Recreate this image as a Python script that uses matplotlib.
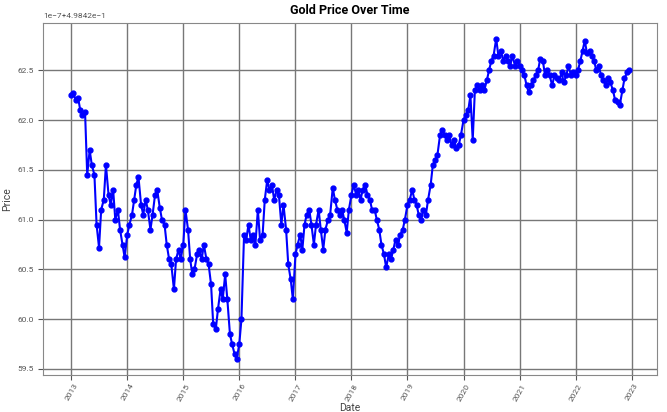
import matplotlib
matplotlib.use('Agg')
import matplotlib.pyplot as plt
import matplotlib.dates as mdates
import pandas as pd

# semi-monthly readings (1st and 15th), Jan 2013 - Dec 2022
dates = pd.date_range("2013-01-01", "2022-12-15", freq="SMS")

# prices in units of 1e-7 above the 0.49842 base
base = 0.49842
scale = 1e-7
price = [
    # 2013
    62.25, 62.27, 62.20, 62.22, 62.10, 62.05, 62.08, 61.45, 61.70, 61.55, 61.45, 60.95,
    60.72, 61.10, 61.20, 61.55, 61.25, 61.15, 61.30, 61.00, 61.10, 60.90, 60.75, 60.62,
    # 2014
    60.85, 60.95, 61.05, 61.20, 61.35, 61.43, 61.15, 61.05, 61.20, 61.10, 60.90, 61.05,
    61.25, 61.30, 61.12, 61.00, 60.95, 60.75, 60.60, 60.55, 60.30, 60.60, 60.70, 60.60,
    # 2015
    60.75, 61.10, 60.90, 60.60, 60.45, 60.50, 60.65, 60.70, 60.60, 60.75, 60.60, 60.55,
    60.35, 59.95, 59.90, 60.10, 60.30, 60.20, 60.45, 60.20, 59.85, 59.75, 59.65, 59.60,
    # 2016
    59.75, 60.00, 60.85, 60.80, 60.95, 60.80, 60.85, 60.75, 61.10, 60.80, 60.85, 61.20,
    61.40, 61.30, 61.35, 61.20, 61.30, 61.25, 60.95, 61.15, 60.90, 60.55, 60.40, 60.20,
    # 2017
    60.65, 60.75, 60.85, 60.70, 60.95, 61.05, 61.10, 60.95, 60.75, 60.95, 61.10, 60.90,
    60.70, 60.90, 61.00, 61.05, 61.32, 61.20, 61.10, 61.05, 61.10, 61.00, 60.87, 61.10,
    # 2018
    61.25, 61.35, 61.25, 61.30, 61.20, 61.30, 61.35, 61.25, 61.20, 61.10, 61.10, 61.00,
    60.90, 60.75, 60.65, 60.52, 60.65, 60.60, 60.70, 60.80, 60.75, 60.85, 60.90, 61.00,
    # 2019
    61.15, 61.20, 61.30, 61.20, 61.15, 61.05, 61.00, 61.10, 61.05, 61.20, 61.35, 61.55,
    61.60, 61.65, 61.85, 61.90, 61.85, 61.80, 61.85, 61.75, 61.80, 61.72, 61.75, 61.85,
    # 2020
    62.00, 62.05, 62.10, 62.25, 61.80, 62.30, 62.35, 62.30, 62.35, 62.30, 62.40, 62.50,
    62.60, 62.65, 62.82, 62.65, 62.70, 62.60, 62.65, 62.60, 62.55, 62.65, 62.55, 62.60,
    # 2021
    62.55, 62.50, 62.45, 62.35, 62.28, 62.35, 62.40, 62.45, 62.50, 62.62, 62.60, 62.45,
    62.50, 62.45, 62.35, 62.45, 62.42, 62.40, 62.48, 62.38, 62.45, 62.55, 62.45, 62.48,
    # 2022
    62.45, 62.50, 62.60, 62.70, 62.80, 62.68, 62.70, 62.65, 62.60, 62.50, 62.55, 62.45,
    62.40, 62.35, 62.42, 62.38, 62.30, 62.20, 62.18, 62.15, 62.30, 62.42, 62.48, 62.50,
]

values = [base + p * scale for p in price]

plt.rcParams['font.family'] = ['Liberation Sans Narrow', 'Roboto', 'DejaVu Sans']

fig, ax = plt.subplots(figsize=(6.67, 4.12), dpi=100)
fig.subplots_adjust(left=0.065, right=0.985, top=0.945, bottom=0.09)

ax.plot(dates, values, color='blue', marker='o', markersize=3.5, linewidth=1.5)

ax.xaxis.set_major_locator(mdates.YearLocator())
ax.xaxis.set_major_formatter(mdates.DateFormatter('%Y'))
ax.grid(True, color='#777777', linewidth=1.0)

for spine in ax.spines.values():
    spine.set_color('#888888')
ax.tick_params(axis='both', labelsize=6, colors='#555555', labelcolor='#555555')
ax.tick_params(axis='x', pad=2)
plt.setp(ax.get_xticklabels(), rotation=60)
ax.yaxis.get_offset_text().set_fontsize(6)
ax.yaxis.get_offset_text().set_color('#555555')

ax.set_title("Gold Price Over Time", fontsize=9, fontweight='bold')
ax.set_xlabel("Date", fontsize=7.5, color='#444444', labelpad=1)
ax.set_ylabel("Price", fontsize=7.5, color='#444444')

plt.savefig("out.png", dpi=100)
plt.close()
